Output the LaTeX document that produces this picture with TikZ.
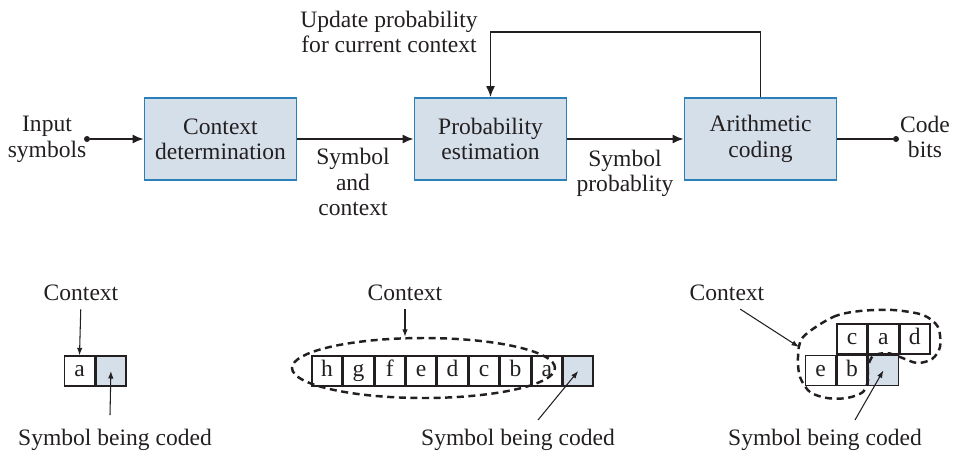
\documentclass[tikz,border=0pt]{standalone}
\usepackage{fontspec}
\setmainfont{Liberation Serif}
\usepackage{tikz}
\usetikzlibrary{arrows.meta,positioning,shapes.geometric}
\usepackage{xcolor}
\definecolor{procblue}{HTML}{2B80B9}
\definecolor{procfill}{HTML}{D5DFEA}
\definecolor{inkgray}{HTML}{231F20}
\newcommand{\diagfont}{\fontsize{13.4}{14.4}\selectfont}
\tikzset{
  procbox/.style={
    draw=procblue,
    fill=procfill,
    line width=1.1pt,
    minimum width=3.04cm,
    minimum height=1.64cm,
    align=center,
    text=inkgray,
    font=\diagfont
  },
  cell/.style={
    draw=inkgray,
    line width=0.8pt,
    minimum size=0.6cm,
    inner sep=0pt,
    text height=0.68em,
    text depth=0pt,
    text=inkgray,
    font=\diagfont
  },
  codedcell/.style={
    cell,
    fill=procfill
  },
  lbl/.style={
    align=center,
    inner sep=0pt,
    text=inkgray,
    font=\diagfont
  },
  dot/.style={
    circle,
    fill=inkgray,
    inner sep=0pt,
    minimum size=1.2mm
  },
  arrow/.style={
    -{Latex[length=2.2mm,width=1.8mm]},
    line width=0.8pt,
    draw=inkgray
  },
  plainline/.style={
    line width=0.8pt,
    draw=inkgray
  },
  pointer/.style={
    -{Latex[length=1.5mm,width=1.1mm]},
    line width=0.6pt,
    draw=inkgray
  },
  ctxloop/.style={
    draw=inkgray,
    line width=1.4pt,
    dash pattern=on 4pt off 2.6pt
  }
}
\begin{document}
\begin{tikzpicture}[x=0.02cm, y=-0.02cm]
\useasboundingbox (0,0) rectangle (961,451);
\node[procbox] (ctxdet) at (220.5,139) {Context\\determination};
\node[procbox] (probest) at (490.5,139) {Probability\\estimation};
\node[procbox] (arith) at (760.5,139) {Arithmetic\\coding};
\node[dot] (insym) at (87,139) {};
\node[dot] (codebits) at (896,139) {};
\node[lbl] (inlbl) at (47,139.3) {Input\\symbols};
\node[lbl] (outlbl) at (925,137) {Code\\bits};
\node[lbl] (updlbl) at (389,32) {Update probability\\for current context};
\node[lbl] (symctx) at (353,182) {Symbol\\and\\context};
\node[lbl] (symprob) at (625,173.5) {Symbol\\probablity};
\coordinate (loop) at (0,32);
\draw[arrow] (insym) -- (ctxdet);
\draw[arrow] (ctxdet) -- (probest);
\draw[arrow] (probest) -- (arith);
\draw[plainline] (arith) -- (codebits);
\draw[arrow] (arith.north) -- (arith.north |- loop) -- (probest.north |- loop) -- (probest.north);

\node[cell] (a1) at (79.5,371) {a};
\node[codedcell, right=0pt of a1] (s1) {};
\node[lbl, anchor=base] (ctx1) at (81,300) {Context};
\node[lbl, anchor=base] (sym1) at (115,445.5) {Symbol being coded};
\coordinate (tail1) at (110,415);
\draw[pointer, shorten <=5pt] (ctx1.south) -- (a1.north);
\draw[pointer] (tail1) -- (s1.center);

\node[cell] (h2) at (327,371) {h};
\node[cell, right=0pt of h2] (g2) {g};
\node[cell, right=0pt of g2] (f2) {f};
\node[cell, right=0pt of f2] (e2) {e};
\node[cell, right=0pt of e2] (d2) {d};
\node[cell, right=0pt of d2] (c2) {c};
\node[cell, right=0pt of c2] (b2) {b};
\node[cell, right=0pt of b2] (a2) {a};
\node[codedcell, right=0pt of a2] (s2) {};
\node[ellipse, ctxloop, minimum width=5.26cm, minimum height=1.2cm] (loop2) at (423.5,368) {};
\node[lbl, anchor=base] (ctx2) at (405,300) {Context};
\node[lbl, anchor=base] (sym2) at (518,445.5) {Symbol being coded};
\coordinate (tail2) at (538,420);
\draw[pointer, shorten <=5pt] (ctx2.south) -- (ctx2.south |- loop2.north);
\draw[pointer] (tail2) -- (s2.center);

\node[cell] (c3) at (852,339) {c};
\node[cell, right=0pt of c3] (a3) {a};
\node[cell, right=0pt of a3] (d3) {d};
\node[cell, below=0pt of c3] (b3) {b};
\node[cell, left=0pt of b3] (e3) {e};
\node[codedcell, right=0pt of b3] (s3) {};
\draw[ctxloop] plot[smooth cycle] coordinates {(803,337) (833,317) (860,311) (893,310) (923,315) (938,327) (940,347) (932,359) (917,363) (900,357) (887,353) (873,356) (868,367) (868,380) (863,392) (847,398) (827,398) (810,392) (800,377) (798,357)};
\coordinate (edge3) at (799,347);
\node[lbl, anchor=base] (ctx3) at (727,300) {Context};
\node[lbl, anchor=base] (sym3) at (825,445.5) {Symbol being coded};
\coordinate (tail3) at (855,420);
\draw[pointer, shorten <=9pt] (ctx3.south) -- (edge3);
\draw[pointer] (tail3) -- (s3.center);
\end{tikzpicture}
\end{document}
